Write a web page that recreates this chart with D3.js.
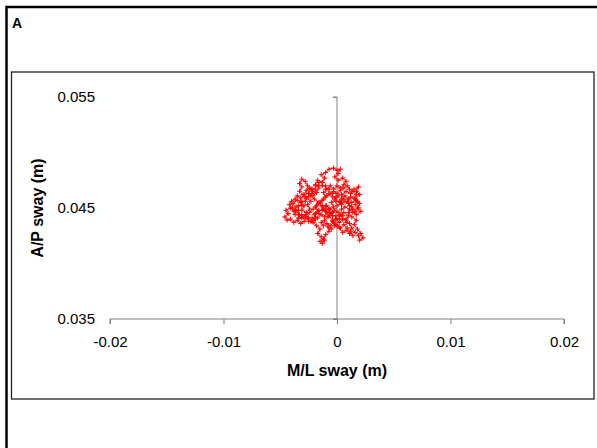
<!DOCTYPE html>
<html>
<head>
<meta charset="utf-8">
<script src="https://cdn.jsdelivr.net/npm/d3@7"></script>
<style>
  body { margin: 0; background: #fff; }
  svg { display: block; font-family: "Liberation Sans", Arial, sans-serif; }
</style>
</head>
<body>
<div id="chart"></div>
<script>
// axis ticks
let xTicks = [-0.02, -0.01, 0, 0.01, 0.02];
let yTicks = [0.035, 0.045, 0.055];

// centre of pressure trace (m)
let mlSway = [
  0.0000, 0.0003, 0.0006, 0.0004, 0.0008, 0.0012, 0.0015, 0.0019, 0.0017, 0.0020,
  0.0016, 0.0012, 0.0009, 0.0011, 0.0014, 0.0010, 0.0013, 0.0017, 0.0015, 0.0018,
  0.0021, 0.0023, 0.0020, 0.0019, 0.0016, 0.0013, 0.0011, 0.0008, 0.0010, 0.0006,
  0.0003, 0.0005, 0.0002, -0.0001, -0.0004, -0.0002, -0.0005, -0.0008, -0.0007, -0.0010,
  -0.0012, -0.0015, -0.0013, -0.0011, -0.0014, -0.0017, -0.0015, -0.0018, -0.0021, -0.0019,
  -0.0023, -0.0026, -0.0029, -0.0032, -0.0035, -0.0038, -0.0041, -0.0044, -0.0046, -0.0043,
  -0.0045, -0.0041, -0.0038, -0.0036, -0.0039, -0.0035, -0.0032, -0.0029, -0.0031, -0.0027,
  -0.0024, -0.0026, -0.0023, -0.0027, -0.0030, -0.0033, -0.0031, -0.0033, -0.0031, -0.0028,
  -0.0026, -0.0023, -0.0025, -0.0021, -0.0018, -0.0016, -0.0019, -0.0017, -0.0013, -0.0011,
  -0.0014, -0.0010, -0.0007, -0.0003, 0.0000, 0.0003, 0.0001, -0.0002, 0.0001, 0.0005,
  0.0008, 0.0006, 0.0003, 0.0000, -0.0003, -0.0006, -0.0009, -0.0012, -0.0010, -0.0013,
  -0.0016, -0.0019, -0.0017, -0.0020, -0.0017, -0.0014, -0.0011, -0.0009, -0.0012, -0.0009,
  -0.0006, -0.0003, -0.0005, -0.0002, 0.0001, 0.0004, 0.0007, 0.0010, 0.0013, 0.0017,
  0.0020, 0.0018, 0.0021, 0.0017, 0.0014, 0.0011, 0.0007, 0.0004, 0.0001, -0.0002,
  -0.0005, -0.0008, -0.0011, -0.0014, -0.0012, -0.0009, -0.0006, -0.0003, 0.0000, 0.0003,
  0.0006, 0.0009, 0.0012, 0.0014, 0.0011, 0.0008, 0.0005, 0.0002, -0.0001, -0.0004,
  -0.0007, -0.0010, -0.0013, -0.0016, -0.0020, -0.0023, -0.0021, -0.0024, -0.0027, -0.0029,
  -0.0032, -0.0035, -0.0037, -0.0040, -0.0042, -0.0039, -0.0036, -0.0033, -0.0030, -0.0027,
  -0.0024, -0.0021, -0.0018, -0.0015, -0.0012, -0.0009, -0.0006, -0.0003, 0.0000, 0.0003,
  0.0006, 0.0009, 0.0011, 0.0014, 0.0017, 0.0015, 0.0018, 0.0016, 0.0019, 0.0016,
  0.0013, 0.0010, 0.0007, 0.0004, 0.0002,
  -0.0001, -0.0001, -0.0004, -0.0004, -0.0007, -0.0007, -0.0010, -0.0010, -0.0013, -0.0013,
  -0.0016, -0.0016, -0.0019, -0.0019, -0.0022, -0.0022, -0.0025, -0.0025, -0.0028, -0.0028,
  -0.0031, -0.0031, -0.0034, -0.0034, -0.0037, -0.0037, -0.0034, -0.0034, -0.0031, -0.0031,
  -0.0028, -0.0028, -0.0025, -0.0025, -0.0022, -0.0022, -0.0019, -0.0019, -0.0016, -0.0016,
  -0.0013, -0.0013, -0.0010, -0.0010, -0.0007, -0.0007, -0.0004, -0.0004, -0.0001, -0.0001,
  0.0002, 0.0002, 0.0005, 0.0005, 0.0008, 0.0008
];
let apSway = [
  0.0452, 0.0455, 0.0458, 0.0462, 0.0465, 0.0463, 0.0467, 0.0469, 0.0465, 0.0462,
  0.0458, 0.0460, 0.0456, 0.0452, 0.0449, 0.0446, 0.0442, 0.0439, 0.0435, 0.0431,
  0.0427, 0.0423, 0.0421, 0.0425, 0.0428, 0.0432, 0.0436, 0.0439, 0.0443, 0.0446,
  0.0444, 0.0440, 0.0437, 0.0440, 0.0438, 0.0434, 0.0431, 0.0433, 0.0429, 0.0426,
  0.0422, 0.0420, 0.0418, 0.0421, 0.0424, 0.0427, 0.0431, 0.0434, 0.0437, 0.0440,
  0.0438, 0.0441, 0.0438, 0.0436, 0.0439, 0.0437, 0.0440, 0.0439, 0.0442, 0.0445,
  0.0448, 0.0450, 0.0447, 0.0451, 0.0454, 0.0457, 0.0455, 0.0452, 0.0448, 0.0446,
  0.0449, 0.0453, 0.0456, 0.0459, 0.0462, 0.0465, 0.0469, 0.0472, 0.0476, 0.0474,
  0.0470, 0.0467, 0.0463, 0.0461, 0.0464, 0.0468, 0.0471, 0.0475, 0.0473, 0.0477,
  0.0480, 0.0482, 0.0485, 0.0486, 0.0484, 0.0485, 0.0481, 0.0478, 0.0475, 0.0477,
  0.0474, 0.0471, 0.0468, 0.0470, 0.0467, 0.0470, 0.0467, 0.0464, 0.0460, 0.0457,
  0.0454, 0.0451, 0.0447, 0.0444, 0.0441, 0.0444, 0.0442, 0.0446, 0.0449, 0.0452,
  0.0449, 0.0451, 0.0455, 0.0458, 0.0461, 0.0458, 0.0461, 0.0458, 0.0455, 0.0457,
  0.0454, 0.0450, 0.0447, 0.0444, 0.0446, 0.0449, 0.0451, 0.0449, 0.0446, 0.0448,
  0.0445, 0.0442, 0.0439, 0.0437, 0.0434, 0.0436, 0.0434, 0.0437, 0.0434, 0.0432,
  0.0435, 0.0432, 0.0429, 0.0425, 0.0427, 0.0430, 0.0428, 0.0432, 0.0435, 0.0439,
  0.0443, 0.0447, 0.0451, 0.0455, 0.0458, 0.0461, 0.0465, 0.0468, 0.0466, 0.0462,
  0.0459, 0.0461, 0.0458, 0.0456, 0.0453, 0.0450, 0.0447, 0.0444, 0.0442, 0.0444,
  0.0446, 0.0449, 0.0452, 0.0455, 0.0458, 0.0461, 0.0463, 0.0465, 0.0463, 0.0466,
  0.0468, 0.0470, 0.0467, 0.0465, 0.0462, 0.0459, 0.0456, 0.0453, 0.0450, 0.0447,
  0.0451, 0.0454, 0.0456, 0.0453, 0.0456,
  0.0456, 0.0460, 0.0460, 0.0463, 0.0463, 0.0467, 0.0467, 0.0470, 0.0470, 0.0473,
  0.0473, 0.0470, 0.0470, 0.0467, 0.0467, 0.0463, 0.0463, 0.0460, 0.0460, 0.0456,
  0.0456, 0.0452, 0.0452, 0.0448, 0.0448, 0.0444, 0.0444, 0.0441, 0.0441, 0.0444,
  0.0444, 0.0441, 0.0441, 0.0438, 0.0438, 0.0441, 0.0441, 0.0445, 0.0445, 0.0448,
  0.0448, 0.0452, 0.0452, 0.0449, 0.0449, 0.0446, 0.0446, 0.0443, 0.0443, 0.0440,
  0.0440, 0.0443, 0.0443, 0.0440, 0.0440, 0.0437
];

let points = mlSway.map((d, i) => ({ x: d, y: apSway[i] }));

let width = 597;
let height = 448;

let svg = d3.select("#chart")
  .append("svg")
  .attr("width", width)
  .attr("height", height);

// outer frame, runs past the right and bottom edges
svg.append("rect")
  .attr("x", 6.5).attr("y", 7)
  .attr("width", 620).attr("height", 480)
  .attr("fill", "none")
  .attr("stroke", "#000")
  .attr("stroke-width", 2.5);

svg.append("text")
  .attr("x", 12).attr("y", 28)
  .attr("font-size", "14px")
  .attr("font-weight", "bold")
  .text("A");

// plot area frame
svg.append("rect")
  .attr("x", 11.5).attr("y", 72)
  .attr("width", 582.5).attr("height", 327)
  .attr("fill", "none")
  .attr("stroke", "#222")
  .attr("stroke-width", 1.3);

let x = d3.scaleLinear()
  .domain([-0.02, 0.02])
  .range([110, 564]);

let y = d3.scaleLinear()
  .domain([0.035, 0.055])
  .range([319, 97]);

// x axis along the bottom
let xAxis = svg.append("g")
  .attr("transform", `translate(0, ${y(0.035)})`)
  .call(d3.axisBottom(x).tickValues(xTicks).tickSize(5).tickPadding(12)
    .tickFormat(d => d === 0 ? "0" : String(d)));
xAxis.select(".domain").attr("stroke", "#808080").attr("d", `M${x(-0.02)},5V0H${x(0.02)}V5`);
xAxis.selectAll(".tick line").attr("stroke", "#808080");
xAxis.selectAll("text").attr("font-size", "15px").attr("fill", "#000");

// y axis line crosses at x = 0
let yAxis = svg.append("g")
  .attr("transform", `translate(${x(0)}, 0)`)
  .call(d3.axisLeft(y).tickValues(yTicks).tickSize(4).tickFormat(""));
yAxis.select(".domain").attr("stroke", "#808080").attr("d", `M-4,${y(0.055)}H0V${y(0.035)}H-4`);
yAxis.selectAll(".tick line").attr("stroke", "#808080");

// y tick labels sit at the left of the plot
let yLabels = svg.append("g")
  .attr("transform", "translate(95, 0)")
  .call(d3.axisLeft(y).tickValues(yTicks).tickSize(0).tickPadding(0).tickFormat(d3.format(".3f")));
yLabels.select(".domain").remove();
yLabels.selectAll("text").attr("font-size", "15px").attr("fill", "#000");

// trace
svg.append("path")
  .datum(points)
  .attr("fill", "none")
  .attr("stroke", "#ff0000")
  .attr("stroke-width", 1)
  .attr("d", d3.line().x(d => x(d.x)).y(d => y(d.y)));

svg.append("g")
  .selectAll("path")
  .data(points)
  .join("path")
  .attr("transform", d => `translate(${x(d.x)}, ${y(d.y)})`)
  .attr("d", "M-2.5,0H2.5M0,-2.5V2.5")
  .attr("stroke", "#ff0000")
  .attr("stroke-width", 1);

// axis titles
svg.append("text")
  .attr("x", 337).attr("y", 376)
  .attr("text-anchor", "middle")
  .attr("font-size", "16px")
  .attr("font-weight", "bold")
  .text("M/L sway (m)");

svg.append("text")
  .attr("transform", "translate(43, 208) rotate(-90)")
  .attr("text-anchor", "middle")
  .attr("font-size", "16px")
  .attr("font-weight", "bold")
  .text("A/P sway (m)");
</script>
</body>
</html>
